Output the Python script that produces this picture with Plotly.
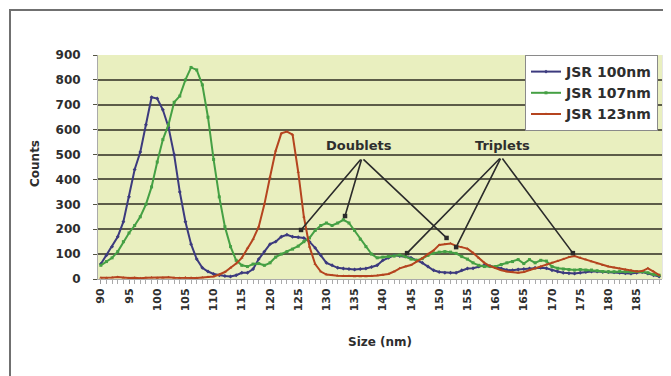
import plotly.graph_objects as go

sizes = list(range(90, 190))

jsr_100 = [60, 95, 130, 170, 230, 330, 440, 510, 620, 730,
           725, 680, 610, 500, 350, 230, 140, 80, 45, 30,
           20, 15, 12, 10, 15, 25, 25, 40, 80, 110,
           140, 150, 170, 178, 170, 168, 165, 150, 125, 95,
           65, 55, 45, 42, 40, 38, 40, 42, 48, 55,
           75, 85, 95, 92, 90, 85, 75, 65, 50, 35,
           28, 25, 25, 25, 35, 42, 43, 50, 55, 52,
           48, 42, 36, 35, 38, 40, 42, 45, 45, 43,
           35, 30, 25, 23, 22, 25, 28, 30, 30, 28,
           28, 27, 25, 23, 22, 25, 28, 22, 15, 10]

jsr_107 = [55, 70, 85, 110, 150, 185, 215, 250, 300, 370,
           470, 560, 620, 710, 735, 800, 850, 840, 780, 650,
           480, 330, 210, 130, 75, 55, 50, 60, 62, 55,
           65, 88, 100, 110, 120, 132, 150, 165, 195, 215,
           225, 215, 225, 238, 225, 195, 160, 130, 100, 85,
           88, 90, 92, 96, 90, 80, 75, 82, 95, 104,
           108, 110, 108, 103, 90, 80, 65, 55, 50, 50,
           50, 58, 65, 70, 78, 62, 78, 65, 75, 72,
           50, 43, 40, 38, 36, 38, 36, 36, 33, 30,
           29, 29, 30, 29, 28, 30, 29, 25, 18, 15]

jsr_123 = [5, 4, 6, 8, 5, 4, 5, 3, 5, 6,
           4, 5, 7, 5, 4, 6, 5, 4, 6, 8,
           10, 18, 28, 45, 62, 85, 125, 160, 210, 300,
           410, 515, 585, 592, 580, 430, 250, 130, 60, 30,
           18, 15, 13, 12, 12, 10, 10, 10, 12, 14,
           16, 20, 30, 43, 50, 56, 70, 83, 100, 115,
           137, 140, 143, 133, 128, 122, 105, 85, 65, 52,
           43, 35, 30, 28, 25, 28, 35, 42, 50, 58,
           65, 72, 80, 88, 92, 85, 78, 70, 62, 55,
           50, 46, 42, 38, 35, 30, 32, 43, 30, 16]

x_ticks = list(range(90, 190, 5))
y_ticks = list(range(0, 1000, 100))

series = [
    ("JSR 100nm", jsr_100, "#3c3a7e", "diamond"),
    ("JSR 107nm", jsr_107, "#45a044", "square"),
    ("JSR 123nm", jsr_123, "#b5441f", "triangle-up"),
]

FONT = "DejaVu Sans"
TXT = "#2e2e2e"

# page offset (browser body margin) compensation
OFF = 8
W, H = 671 - OFF, 376 - OFF
L = 98 - OFF
T = 55 - OFF
R = W - (662 - OFF)
B = H - (279 - OFF)
pw, ph = W - L - R, H - T - B


def px_to_paper(xp, yp):
    return (xp - OFF - L) / pw, (H - B - (yp - OFF)) / ph


fig = go.Figure()
for name, vals, col, sym in series:
    fig.add_trace(go.Scatter(
        x=sizes, y=vals, name=name, mode="lines+markers",
        line=dict(color=col, width=2),
        marker=dict(color=col, size=3, symbol=sym),
    ))

labels = [
    ("Doublets", 135.8, 538, (136.3, 486), [(125.5, 197), (133.3, 253), (151.3, 165)]),
    ("Triplets", 161.2, 538, (161.0, 490), [(144.3, 104), (153.0, 128), (173.7, 104)]),
]
annotations = []
for text, tx, ty, apex, tips in labels:
    annotations.append(dict(x=tx, y=ty, text=text, showarrow=False,
                            xanchor="center", yanchor="middle",
                            font=dict(size=13, color=TXT, family=FONT, weight="bold")))
    for (px, py) in tips:
        annotations.append(dict(x=px, y=py, ax=apex[0], ay=apex[1],
                                axref="x", ayref="y", xref="x", yref="y",
                                text="", showarrow=True, arrowhead=7,
                                arrowsize=0.7, arrowwidth=1.6,
                                arrowcolor="#2b2b2b", standoff=0, startstandoff=0))

sx, sy = px_to_paper(380, 342)
annotations.append(dict(x=sx, y=sy, xref="paper", yref="paper", text="Size (nm)",
                        showarrow=False, xanchor="center", yanchor="middle",
                        font=dict(size=12, color=TXT, family=FONT, weight="bold")))
cx, cy = px_to_paper(35, 164)
annotations.append(dict(x=cx, y=cy, xref="paper", yref="paper", text="Counts",
                        showarrow=False, textangle=-90, xanchor="center", yanchor="middle",
                        font=dict(size=12, color=TXT, family=FONT, weight="bold")))

fx0, fy0 = px_to_paper(10, 10)
fx1, fy1 = px_to_paper(700, 420)
lx, _ = px_to_paper(525, 55)
shx, _ = px_to_paper(664, 55)

fig.update_layout(
    width=W, height=H,
    margin=dict(l=L, r=R, t=T, b=B, autoexpand=False),
    paper_bgcolor="white",
    plot_bgcolor="#e9efbf",
    font=dict(family=FONT, size=11, color=TXT),
    showlegend=True,
    legend=dict(x=lx, y=1.0, xanchor="left", yanchor="top",
                bgcolor="white", bordercolor="#8a8a8a", borderwidth=1,
                font=dict(size=14, color=TXT, family=FONT, weight="bold"),
                tracegroupgap=0, itemwidth=30),
    annotations=annotations,
    shapes=[
        dict(type="rect", xref="paper", yref="paper",
             x0=fx0, y0=fy1, x1=fx1, y1=fy0,
             line=dict(color="#707070", width=2), layer="below"),
        dict(type="line", xref="paper", yref="paper",
             x0=shx, x1=shx, y0=0, y1=1,
             line=dict(color="#cccccc", width=3), layer="below"),
    ],
)

fig.update_xaxes(
    range=[89.5, 189.5], tickmode="array", tickvals=x_ticks,
    ticktext=[str(v) for v in x_ticks], tickangle=-90,
    ticks="outside", ticklen=4, tickcolor="#999999",
    minor=dict(dtick=1, tick0=90, ticks="outside", ticklen=4, tickcolor="#aaaaaa"),
    showgrid=False, zeroline=False, automargin=False,
    showline=True, linecolor="#aaaaaa", linewidth=1,
    tickfont=dict(size=11, color=TXT, family=FONT, weight="bold"),
)
fig.update_yaxes(
    range=[0, 900], tickmode="array", tickvals=y_ticks,
    ticks="outside", ticklen=4, tickcolor="#555544",
    showgrid=True, gridcolor="#5c5c48", gridwidth=1.5, automargin=False,
    zeroline=False, showline=True, linecolor="#aaaaaa", linewidth=1,
    ticklabelstandoff=10,
    tickfont=dict(size=12, color=TXT, family=FONT, weight="bold"),
)

fig.write_html("out.html")
